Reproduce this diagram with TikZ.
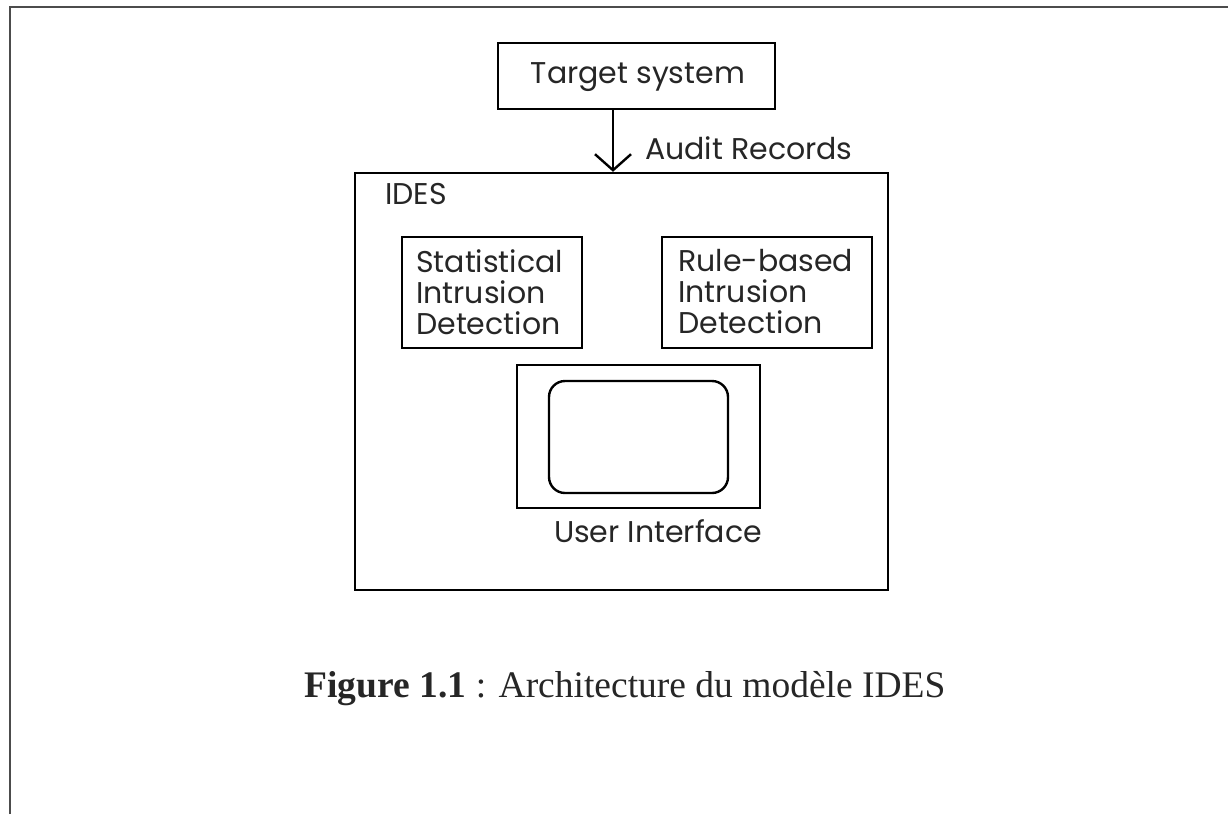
\documentclass[tikz,border=0pt]{standalone}
\usepackage{fontspec}
\setmainfont{Liberation Serif}
\newfontfamily\gothic{Poppins}
\usetikzlibrary{arrows.meta}
\begin{document}
\begin{tikzpicture}[x=1pt,y=-1pt,
  box/.style={draw, line width=2.4pt, inner sep=0pt},
  lbl/.style={font=\gothic\fontsize{30}{31}\selectfont, inner sep=0pt, text=black!85},
]
\useasboundingbox (0,0) rectangle (1228,814);
% page frame
\draw[line width=2.2pt, black!70] (10,814) -- (10,7) -- (1228,7);
% target system
\node[box, minimum width=277pt, minimum height=66pt] (target) at (636.5,76) {};
\node[lbl] (targett) at (638,77) {Target system};
% IDES
\node[box, minimum width=533pt, minimum height=417pt] (ides) at (621.5,381.5) {};
\node[lbl, anchor=west] (idest) at (385,194) {IDES};
\coordinate (arrtop) at (target.south -| 613,0);
\coordinate (arrbot) at (ides.north -| 613,0);
\draw[line width=2.4pt, -{Straight Barb[length=16pt,width=36pt,line width=2.4pt]}] (arrtop) -- (arrbot);
\node[lbl, anchor=west] (audit) at (645,148) {Audit Records};
% statistical
\node[box, minimum width=180pt, minimum height=111pt] (stat) at (492,292.5) {};
\node[lbl, anchor=west, align=left] (statt) at (416,292) {Statistical\\Intrusion\\Detection};
% rule-based
\node[box, minimum width=210pt, minimum height=111pt] (rule) at (767,292.5) {};
\node[lbl, anchor=west, align=left] (rulet) at (678,292) {Rule-based\\Intrusion\\Detection};
% user interface
\node[box, minimum width=243pt, minimum height=143pt] (ui) at (638.5,436.5) {};
\node[draw, line width=2.4pt, rounded corners=16pt, minimum width=179pt, minimum height=112pt] (screen) at (638.5,437) {};
\node[lbl] (uit) at (658,531) {User Interface};
% caption
\node[font=\fontsize{37.5}{40}\selectfont, inner sep=0pt, text=black!85] (cap) at (625,689) {\textbf{Figure 1.1} : Architecture du modèle IDES};
\end{tikzpicture}
\end{document}
